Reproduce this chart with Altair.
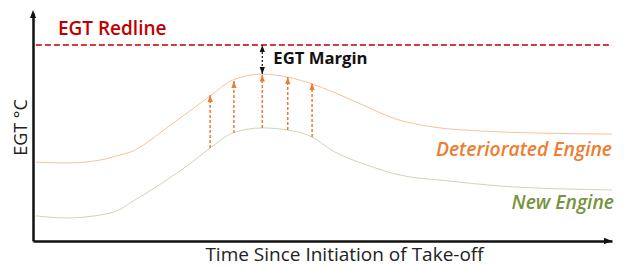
import altair as alt
import pandas as pd

# ---- data ----
time_det = [0.5, 5.5, 11.6, 15.0, 17.3, 19.6, 21.9, 26.6, 30.6, 34.5, 39.6, 43.9, 48.2, 51.8, 57.7, 62.2, 69.1, 77.7, 86.4, 100]
egt_det = [34.6, 34.2, 35.5, 37.7, 39.5, 43.0, 47.4, 56.1, 63.6, 70.6, 73.2, 71.9, 68.9, 65.4, 58.8, 53.9, 50.0, 48.2, 47.4, 46.9]

time_new = [0.5, 5.8, 11.6, 15.0, 17.3, 20.2, 23.1, 26.6, 30.6, 34.5, 39.6, 43.9, 48.2, 51.8, 57.7, 63.4, 72.0, 80.7, 92.2, 100]
egt_new = [11.0, 10.1, 11.4, 13.8, 17.5, 22.0, 26.8, 32.9, 40.8, 47.4, 49.6, 48.7, 45.6, 39.5, 33.3, 28.9, 26.3, 24.1, 22.8, 22.4]

arrow_time = [30.6, 34.7, 39.6, 44.0, 48.2]
arrow_from = [40.8, 47.4, 49.6, 48.7, 45.6]
arrow_to = [64.0, 70.2, 73.0, 71.9, 69.3]

redline_egt = 86.0
redline_start = 0.5
redline_end = 100
margin_time = 39.6
margin_low = 73.2

label_text = ["EGT Redline", "EGT Margin", "Deteriorated Engine", "New Engine"]
label_time = [4.3, 41.5, 100, 100]
label_egt = [93.0, 79.8, 39.9, 16.7]

x_title = "Time Since Initiation of Take-off"
y_title = "EGT °C"

FONT = "Open Sans"
RED_TEXT = "#C00000"
RED_LINE = "#D23C3C"
ORANGE = "#ED7D31"
GREEN = "#77933C"

xscale = alt.Scale(domain=[0, 100], nice=False, zero=False)
yscale = alt.Scale(domain=[0, 100], nice=False, zero=False)


def X(field):
    return alt.X(field, type="quantitative", scale=xscale, title=x_title)


def Y(field):
    return alt.Y(field, type="quantitative", scale=yscale, title=y_title)


det_df = pd.DataFrame({"t": time_det, "egt": egt_det})
new_df = pd.DataFrame({"t": time_new, "egt": egt_new})
arr_df = pd.DataFrame({"t": arrow_time, "egt": arrow_from, "egt2": arrow_to})
red_df = pd.DataFrame({"t": [redline_start], "t2": [redline_end], "egt": [redline_egt]})
mar_df = pd.DataFrame({"t": [margin_time], "egt": [margin_low], "egt2": [redline_egt]})
axis_df = pd.DataFrame({"t": [0], "egt": [100], "t_end": [100], "egt0": [0]})

det_line = alt.Chart(det_df).mark_line(color="#F7C19C", strokeWidth=1, interpolate="monotone").encode(
    x=X("t"), y=Y("egt"))
new_line = alt.Chart(new_df).mark_line(color="#C9D8B8", strokeWidth=1, interpolate="monotone").encode(
    x=X("t"), y=Y("egt"))

redline = alt.Chart(red_df).mark_rule(color=RED_LINE, strokeWidth=2, strokeDash=[6, 3]).encode(
    x=X("t"), x2="t2", y=Y("egt"))

arr_rules = alt.Chart(arr_df).mark_rule(color=ORANGE, strokeWidth=1.5, strokeDash=[3, 2]).encode(
    x=X("t"), y=Y("egt"), y2="egt2")
UP = "M0,-1L0.75,1L-0.75,1Z"
DOWN = "M0,1L0.75,-1L-0.75,-1Z"
RIGHT = "M1,0L-1,-0.8L-1,0.8Z"
arr_heads = alt.Chart(arr_df).mark_point(shape=UP, filled=True, size=49, color=ORANGE, opacity=1,
                                         yOffset=3.5).encode(x=X("t"), y=Y("egt2"))

mar_rule = alt.Chart(mar_df).mark_rule(color="#111111", strokeWidth=1.2, strokeDash=[2, 2]).encode(
    x=X("t"), y=Y("egt"), y2="egt2")
mar_up = alt.Chart(mar_df).mark_point(shape=UP, filled=True, size=49, color="#111111", opacity=1,
                                      yOffset=3.5).encode(x=X("t"), y=Y("egt2"))
mar_down = alt.Chart(mar_df).mark_point(shape=DOWN, filled=True, size=49, color="#111111", opacity=1,
                                        yOffset=-3.5).encode(x=X("t"), y=Y("egt"))

y_arrow = alt.Chart(axis_df).mark_point(shape=UP, filled=True, size=64, color="#111111", opacity=1,
                                        yOffset=1).encode(x=X("t"), y=Y("egt"))
x_arrow = alt.Chart(axis_df).mark_point(shape=RIGHT, filled=True, size=64, color="#111111", opacity=1,
                                        xOffset=-4).encode(x=X("t_end"), y=Y("egt0"))

lab = pd.DataFrame({"t": label_time, "egt": label_egt, "label": label_text})
t_red = alt.Chart(lab.iloc[[0]]).mark_text(align="left", baseline="middle", font=FONT, fontSize=19,
                                           fontWeight=600, color=RED_TEXT).encode(
    x=X("t"), y=Y("egt"), text="label")
t_mar = alt.Chart(lab.iloc[[1]]).mark_text(align="left", baseline="middle", font=FONT, fontSize=16.7,
                                           fontWeight="bold", color="#111111").encode(
    x=X("t"), y=Y("egt"), text="label")
t_det = alt.Chart(lab.iloc[[2]]).mark_text(align="right", baseline="middle", font=FONT, fontSize=19.3,
                                           fontStyle="italic", fontWeight=600, color=ORANGE, dx=0).encode(
    x=X("t"), y=Y("egt"), text="label")
t_new = alt.Chart(lab.iloc[[3]]).mark_text(align="right", baseline="middle", font=FONT, fontSize=19.3,
                                           fontStyle="italic", fontWeight=600, color=GREEN, dx=2).encode(
    x=X("t"), y=Y("egt"), text="label")

chart = alt.layer(
    det_line, new_line, redline, arr_rules, arr_heads, mar_rule, mar_up, mar_down,
    y_arrow, x_arrow, t_red, t_mar, t_det, t_new
).properties(
    width=579, height=228,
    autosize=alt.AutoSizeParams(type="none"),
    padding={"left": 25, "top": 5, "right": 4, "bottom": 25},
).configure_view(stroke=None).configure_axis(
    grid=False, ticks=False, labels=False, domain=True, domainColor="#111111", domainWidth=2.5,
    titleFont=FONT, titleFontWeight="normal", titleColor="#222222", titleFontSize=19,
).configure_axisX(
    titlePadding=4, titleX=311, titleAlign="center", titleAnchor="start"
).configure_axisY(
    titleFontSize=18, titlePadding=3
)

chart.save("out.html", embed_options={"renderer": "svg", "actions": False})
